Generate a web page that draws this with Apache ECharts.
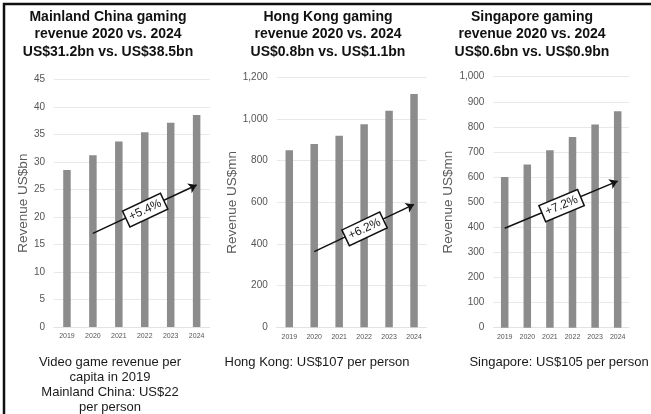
<!DOCTYPE html>
<html lang="en">
  <head>
    <meta charset="UTF-8" />
    <title>Gaming revenue</title>
    <script src="https://cdn.jsdelivr.net/npm/echarts@6/dist/echarts.min.js"></script>
    <style>
      html, body { margin: 0; padding: 0; background: #fff; }
      #chart { width: 651px; height: 414px; }
    </style>
  </head>
  <body>
    <div id="chart"></div>
    <script>
      const years = ['2019', '2020', '2021', '2022', '2023', '2024'];

      // revenue per market (China in US$bn, the others in US$mn)
      const chinaRevenue = [28.5, 31.2, 33.7, 35.4, 37.1, 38.5];
      const hongKongRevenue = [850, 880, 920, 975, 1040, 1120];
      const singaporeRevenue = [600, 650, 707, 760, 810, 862];

      // trend arrows: [category index, value] start / end
      const chinaTrend = [[0.92, 17], [5.07, 25.8]];
      const hongKongTrend = [[0.9, 363], [5.08, 590]];
      const singaporeTrend = [[0.38, 396], [5.03, 584]];
      const trendLabels = ['+5.4%', '+6.2%', '+7.2%'];

      const titles = [
        'Mainland China gaming\nrevenue 2020 vs. 2024\nUS$31.2bn vs. US$38.5bn',
        'Hong Kong gaming\nrevenue 2020 vs. 2024\nUS$0.8bn vs. US$1.1bn',
        'Singapore gaming\nrevenue 2020 vs. 2024\nUS$0.6bn vs. US$0.9bn'
      ];
      const footers = [
        'Video game revenue per\ncapita in 2019\nMainland China: US$22\nper person',
        'Hong Kong: US$107 per person',
        'Singapore: US$105 per person'
      ];
      const axisNames = ['Revenue US$bn', 'Revenue US$mn', 'Revenue US$mn'];

      const font = 'Liberation Sans, Arial, Helvetica, sans-serif';
      const barColor = '#8c8c8c';

      const grids = [
        {left: 54, top: 79.3, width: 155.6, height: 247.7},
        {left: 276.8, top: 77.3, width: 149.7, height: 250},
        {left: 493.4, top: 76.7, width: 135.6, height: 251}
      ];
      const titleX = [108, 328, 532];
      const footerX = [110, 317, 559];
      const yScales = [
        {max: 45, interval: 5, gap: 24},
        {max: 1200, interval: 200, gap: 38},
        {max: 1000, interval: 100, gap: 38}
      ];
      const seriesData = [chinaRevenue, hongKongRevenue, singaporeRevenue];
      const trends = [chinaTrend, hongKongTrend, singaporeTrend];

      const myChart = echarts.init(document.getElementById('chart'), null, {renderer: 'canvas'});

      const option = {
        animation: false,
        backgroundColor: '#fff',
        title: titles.map((t, i) => ({
          text: t,
          left: titleX[i],
          top: 8,
          textAlign: 'center',
          padding: 0,
          textStyle: {fontFamily: font, fontSize: 14, fontWeight: 'bold', color: '#111', lineHeight: 17.5}
        })).concat(footers.map((t, i) => ({
          text: t,
          left: footerX[i],
          top: 354.5,
          textAlign: 'center',
          padding: 0,
          textStyle: {fontFamily: font, fontSize: 13, fontWeight: 'normal', color: '#1a1a1a', lineHeight: 15}
        }))),
        grid: grids,
        xAxis: grids.map((g, i) => ({
          type: 'category',
          gridIndex: i,
          data: years,
          axisTick: {show: false},
          axisLine: {show: true, lineStyle: {color: '#e2e2e2'}},
          axisLabel: {fontFamily: font, fontSize: 7, color: '#555', margin: 6, interval: 0}
        })),
        yAxis: yScales.map((s, i) => ({
          type: 'value',
          gridIndex: i,
          min: 0,
          max: s.max,
          interval: s.interval,
          name: axisNames[i],
          nameLocation: 'middle',
          nameGap: s.gap,
          nameTextStyle: {fontFamily: font, fontSize: 13.5, color: '#5a5a5a'},
          axisLine: {show: false},
          axisTick: {show: false},
          axisLabel: {
            fontFamily: font, fontSize: 10, color: '#555', margin: 9,
            formatter: (v) => v.toLocaleString('en-US')
          },
          splitLine: {lineStyle: {color: '#e8e8e8'}}
        })),
        series: seriesData.map((d, i) => ({
          type: 'bar',
          xAxisIndex: i,
          yAxisIndex: i,
          data: d,
          barWidth: 7.5,
          itemStyle: {color: barColor},
          markLine: {
            silent: true,
            symbol: ['none', 'arrow'],
            symbolSize: 8,
            lineStyle: {color: '#111', width: 1.5, type: 'solid'},
            label: {
              show: true,
              position: 'middle',
              formatter: trendLabels[i],
              fontFamily: font,
              fontSize: 12,
              color: '#222',
              backgroundColor: '#fff',
              borderColor: '#111',
              borderWidth: 1.5,
              padding: [2, 3],
              distance: -9
            },
            data: [[{coord: trends[i][0]}, {coord: trends[i][1]}]]
          }
        })),
        graphic: [{
          type: 'polyline',
          shape: {points: [[4, 414], [4, 4], [651, 4]]},
          style: {stroke: '#111', lineWidth: 2.5, fill: null}
        }]
      };

      myChart.setOption(option);
    </script>
  </body>
</html>
